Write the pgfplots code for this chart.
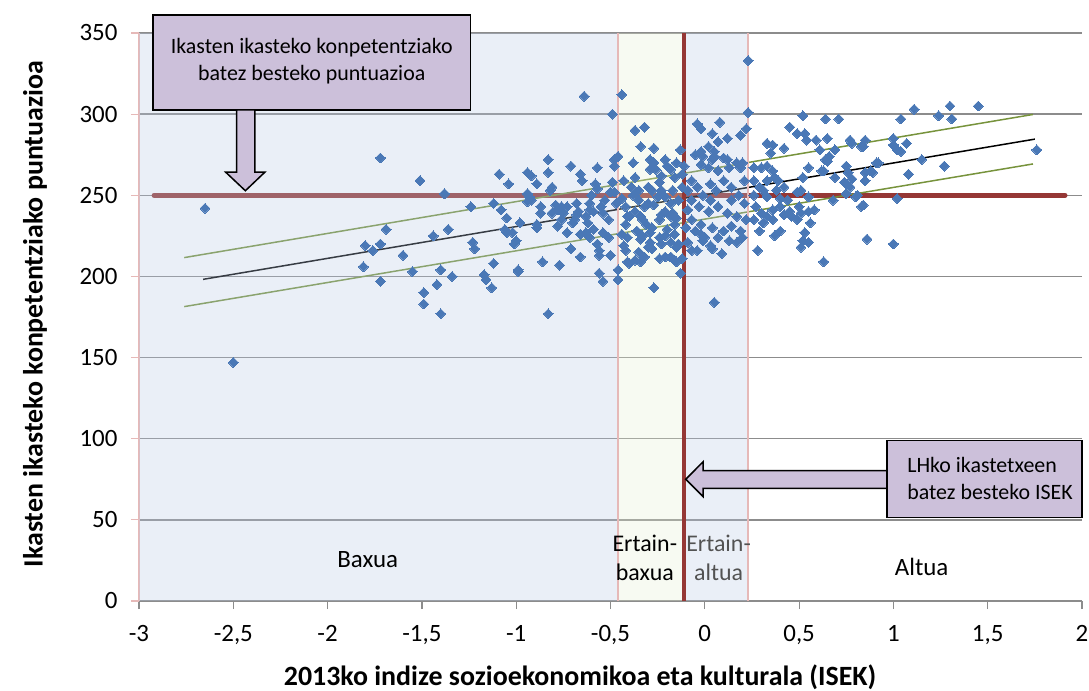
\documentclass[border=0pt]{standalone}
\usepackage{fontspec}
\setmainfont{Carlito}
\usepackage{pgfplots}
\usepackage{pgfplotstable}
\pgfplotsset{compat=1.18}
\definecolor{ptblue}{HTML}{4A78B6}
\definecolor{shadeblue}{RGB}{185,202,228}
\definecolor{shadegreen}{RGB}{228,238,212}
\definecolor{pinkb}{HTML}{E6B9B8}
\definecolor{darkred}{HTML}{953735}
\definecolor{gridg}{HTML}{8C8C8C}
\definecolor{lav}{HTML}{CCC0DA}
\definecolor{trend}{HTML}{77933C}

% ikastetxeak: ISEK eta puntuazioa
\pgfplotstableread{
x y
-2.65 242
-2.50 147
-1.80 219
-1.76 216
-1.72 220
-1.69 229
-1.81 206
-1.72 197
-1.72 273
-1.60 213
-1.55 203
-1.51 259
-1.49 190
-1.49 183
-1.40 177
-1.44 225
-1.38 251
-1.36 229
-1.40 204
-1.42 195
-1.34 200
-1.24 243
-1.23 221
-1.22 217
-1.12 208
-1.17 201
-1.16 198
-1.13 193
-1.12 245
-1.09 263
-1.04 257
-1.08 241
-1.05 236
-1.05 227
-1.02 227
-1.06 229
-1.01 220
-1.00 222
-0.99 204
-0.98 233
-0.94 264
-0.94 246
-0.99 203
-0.92 262
-0.89 257
-0.93 249
-0.92 247
-0.87 243
-0.87 239
-0.89 232
-0.86 209
-0.83 272
-0.83 264
-0.81 255
-0.82 253
-0.78 241
-0.76 243
-0.75 239
-0.78 231
-0.77 207
-0.83 177
-0.71 268
-0.66 263
-0.65 259
-0.70 233
-0.69 235
-0.71 217
-0.66 212
-0.68 245
-0.61 245
-0.60 250
-0.61 241
-0.57 267
-0.63 227
-0.61 224
-0.59 229
-0.57 220
-0.56 216
-0.56 213
-0.58 257
-0.57 254
-0.54 239
-0.51 235
-0.50 213
-0.56 202
-0.54 197
-0.64 311
-0.49 300
-0.44 312
-0.49 258
-0.48 268
-0.46 274
-0.48 272
-0.48 252
-0.44 248
-0.47 245
-0.42 243
-0.41 237
-0.42 216
-0.41 209
-0.46 204
-0.46 198
-0.94 251
-0.79 244
-0.73 243
-0.67 240
-0.62 233
-0.59 240
-0.55 243
-0.53 247
-0.50 252
-0.54 227
-0.51 224
-0.66 226
-0.73 227
-0.89 230
-0.81 239
-0.76 235
-0.68 238
-0.63 237
-0.27 193
-0.38 270
-0.37 261
-0.37 290
-0.32 292
-0.34 280
-0.27 279
-0.39 255
-0.35 253
-0.38 250
-0.35 247
-0.32 243
-0.37 240
-0.34 237
-0.31 232
-0.36 228
-0.33 225
-0.29 221
-0.34 223
-0.30 218
-0.35 215
-0.32 212
-0.37 210
-0.40 208
-0.34 209
-0.29 272
-0.27 270
-0.26 266
-0.29 266
-0.21 272
-0.20 268
-0.18 266
-0.23 262
-0.24 258
-0.16 261
-0.17 253
-0.21 249
-0.23 253
-0.28 253
-0.27 244
-0.21 240
-0.17 239
-0.15 236
-0.24 235
-0.28 230
-0.20 229
-0.16 226
-0.24 224
-0.18 221
-0.14 220
-0.28 217
-0.24 211
-0.21 212
-0.18 212
-0.16 210
-0.13 278
-0.15 270
-0.11 268
-0.12 263
-0.15 209
-0.15 218
-0.12 211
-0.13 202
-0.09 221
-0.07 216
-0.43 259
-0.42 232
-0.41 224
-0.30 255
-0.25 249
-0.30 245
-0.23 238
-0.18 237
-0.33 235
-0.29 227
-0.21 225
-0.16 232
-0.23 220
-0.14 247
-0.18 245
-0.12 255
-0.40 237
-0.44 226
-0.43 219
-0.04 294
-0.02 291
0.08 295
0.04 288
0.12 285
0.07 283
0.02 280
-0.02 277
0.05 277
-0.05 275
-0.01 274
0.05 274
0.04 272
0.10 273
0.12 272
0.17 270
-0.02 269
0.02 267
0.07 265
0.13 267
0.19 267
0.20 270
0.19 287
0.22 291
0.23 301
0.23 333
0.21 259
0.05 184
-0.04 216
-0.02 226
0.00 224
0.03 219
0.04 217
0.09 214
0.17 221
-0.07 259
-0.04 255
-0.01 250
0.03 257
0.06 253
0.10 259
0.14 255
0.18 250
0.21 245
-0.07 247
-0.03 243
0.02 240
0.07 243
0.12 239
0.17 237
0.22 235
-0.07 235
-0.02 232
0.04 230
0.10 228
0.14 231
0.19 228
-0.05 228
0.07 224
0.13 222
0.20 224
-0.01 222
0.03 247
0.14 247
-0.09 253
-0.09 241
-0.10 230
0.26 267
0.30 267
0.33 282
0.36 281
0.35 276
0.42 279
0.33 268
0.36 265
0.37 261
0.33 259
0.39 259
0.42 255
0.38 253
0.31 253
0.26 250
0.33 249
0.40 248
0.44 247
0.49 252
0.51 253
0.55 249
0.50 243
0.45 240
0.42 238
0.46 237
0.51 239
0.55 240
0.58 241
0.49 235
0.56 233
0.53 227
0.52 222
0.55 221
0.51 218
0.29 228
0.37 225
0.40 228
0.28 216
0.63 209
0.45 292
0.49 288
0.53 288
0.52 299
0.54 284
0.59 284
0.61 278
0.64 272
0.62 265
0.55 267
0.52 261
0.27 243
0.30 239
0.33 237
0.36 241
0.26 235
0.31 233
0.40 243
0.36 235
0.26 259
0.29 255
0.64 297
0.71 297
0.65 285
0.77 284
0.78 282
0.85 284
0.84 280
0.69 278
0.66 274
0.65 271
0.63 265
0.75 268
0.76 264
0.78 260
0.74 258
0.77 255
0.75 251
0.69 261
0.68 247
0.85 264
0.89 264
0.85 259
0.92 270
0.81 250
0.84 244
0.86 223
1.00 220
1.00 285
1.00 281
1.02 278
1.04 277
1.07 282
1.04 297
1.11 303
1.15 272
1.08 263
1.02 248
1.27 268
1.24 299
1.30 305
1.31 297
1.45 305
1.76 278
0.80 249
0.83 243
0.88 265
0.91 270
0.83 280
}\isekdata

\begin{document}
\begin{tikzpicture}
\path[use as bounding box] (-139bp,-90bp) rectangle (950bp,601bp);
\begin{axis}[
  scale only axis, width=943bp, height=568bp,
  xmin=-3, xmax=2, ymin=0, ymax=350,
  xtick={-3,-2.5,-2,-1.5,-1,-0.5,0,0.5,1,1.5,2},
  ytick={0,50,100,150,200,250,300,350},
  axis lines*=left, axis line style={-},
  x axis line style={draw=gridg, line width=1.2bp},
  y axis line style={draw=pinkb, line width=1.5bp},
  tick align=outside, major tick length=8bp,
  xtick style={draw=gridg, line width=1.2bp},
  ytick style={draw=pinkb, line width=1.2bp},
  ymajorgrids, grid style={draw=gridg, line width=1.5bp},
  /pgf/number format/use comma,
  /pgf/number format/assume math mode=true,
  tick label style={font=\fontsize{25}{29}\selectfont, text=black},
  xticklabel style={yshift=-13bp},
  yticklabel style={xshift=-10bp},
  xlabel={2013ko indize sozioekonomikoa eta kulturala (ISEK)},
  ylabel={Ikasten ikasteko konpetentziako puntuazioa},
  xlabel style={font=\fontsize{28}{32}\selectfont\bfseries, at={(axis description cs:0.4677,-0.1338)}, anchor=center},
  ylabel style={font=\fontsize{28}{32}\selectfont\bfseries, at={(axis description cs:-0.1103,0.505)}, anchor=center, rotate=0},
  clip=false,
]
% puntuak
\addplot[only marks, mark=square*, mark size=3.5bp,
  mark options={rotate=45, fill=ptblue, draw=ptblue, line width=0pt}]
  table {\isekdata};
% batez besteko puntuazioa
\draw[darkred, line width=5bp, line cap=round] (-2.92,250) -- (1.91,250);
% erregresio zuzena eta tartea
\addplot[black, line width=1.5bp] coordinates {(-2.66,198.2) (1.75,284.6)};
\addplot[trend, line width=1.5bp] coordinates {(-2.76,211.6) (1.74,299.8)};
\addplot[trend, line width=1.5bp] coordinates {(-2.76,181.4) (1.74,269.3)};
% ISEK taldeak
\fill[shadeblue, opacity=0.3] (-3,0) rectangle (-0.46,350);
\fill[shadegreen, opacity=0.3] (-0.46,0) rectangle (-0.11,350);
\fill[shadeblue, opacity=0.3] (-0.11,0) rectangle (0.23,350);
\draw[pinkb, line width=2.5bp] (-0.46,0) -- (-0.46,350);
\draw[pinkb, line width=2.5bp] (0.23,0) -- (0.23,350);
\draw[darkred, line width=4bp] (-0.11,0) -- (-0.11,350);
\node[font=\fontsize{25}{29}\selectfont] at (-1.787,25.3) {Baxua};
\node[font=\fontsize{24}{29}\selectfont, align=center] at (-0.318,26.5) {Ertain-\\baxua};
\node[font=\fontsize{24}{29}\selectfont, align=center, text=black!68] at (0.073,26.5) {Ertain-\\altua};
\node[font=\fontsize{25}{29}\selectfont] at (1.15,21) {Altua};
% oharrak
\draw[fill=lav, line width=1.5bp] (-2.927,361.1) rectangle (-1.241,302.6);
\node[font=\fontsize{22}{27}\selectfont, align=center] at (-2.084,332.5)
  {Ikasten ikasteko konpetentziako\\batez besteko puntuazioa};
\draw[fill=lav, line width=1.5bp, line join=miter]
  (-2.483,302.6) -- (-2.483,264.2) -- (-2.540,264.2) -- (-2.436,252.8)
  -- (-2.333,264.2) -- (-2.386,264.2) -- (-2.386,302.6) -- cycle;
\draw[fill=lav, line width=1.5bp, line join=miter]
  (0.965,80.3) -- (-0.009,80.3) -- (-0.009,85.8) -- (-0.101,75.0)
  -- (-0.009,64.3) -- (-0.009,69.4) -- (0.965,69.4) -- cycle;
\draw[fill=lav, line width=1.5bp] (0.965,98.8) rectangle (1.999,51.6);
\node[font=\fontsize{22}{27}\selectfont, align=left, anchor=west] at (1.055,75.3)
  {LHko ikastetxeen\\batez besteko ISEK};
\end{axis}
\end{tikzpicture}
\end{document}
